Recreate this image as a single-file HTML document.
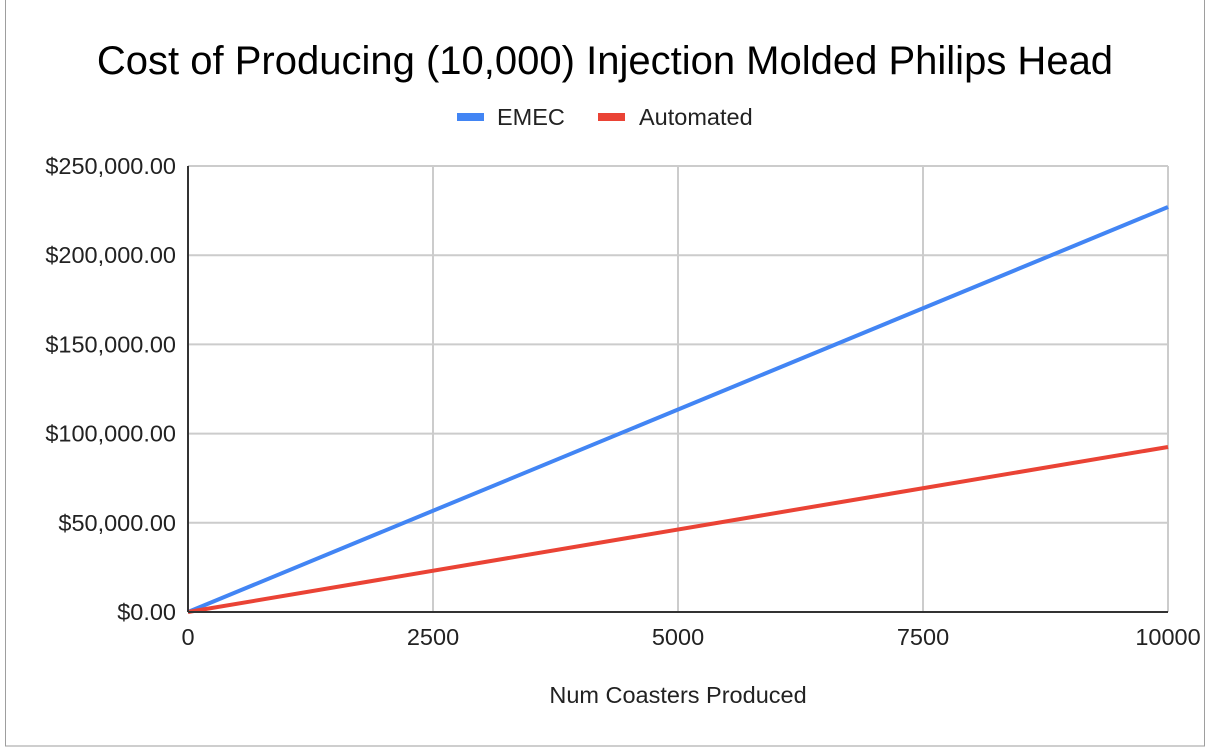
<!DOCTYPE html>
<html><head><meta charset="utf-8"><style>
html,body{margin:0;padding:0;background:#fff;}
svg{display:block;font-family:"Liberation Sans",Arial,sans-serif;}
</style></head><body>
<svg width="1208" height="748" viewBox="0 0 1208 748">
<rect x="5.5" y="-1" width="1199" height="747" fill="#fff" stroke="#9e9e9e"/>
<text x="605" y="74" font-size="40" text-anchor="middle" fill="#000">Cost of Producing (10,000) Injection Molded Philips Head</text>
<g>
<g><rect x="457" y="113" width="27" height="8" fill="#4285f4"/><text x="497" y="125" font-size="23.5" fill="#222">EMEC</text></g>
<g><rect x="598" y="113" width="27" height="8" fill="#ea4335"/><text x="639" y="125" font-size="23.5" fill="#222">Automated</text></g>
</g>
<g id="grid"></g><g id="series"></g><g id="axes"></g>
<text x="678" y="703" font-size="23.5" text-anchor="middle" fill="#222">Num Coasters Produced</text>
</svg>
<script>
const xTicks=[0,2500,5000,7500,10000];
const yTicks=[0,50000,100000,150000,200000,250000];
const yTickLabels=["$0.00","$50,000.00","$100,000.00","$150,000.00","$200,000.00","$250,000.00"];
const xs=[0,10000];
const emec=[0,227000];
const automated=[0,92500];
const X0=188,X1=1168,Y0=612,Y1=166;
const sx=v=>X0+(v-0)/(10000)*(X1-X0);
const sy=v=>Y0-(v/250000)*(Y0-Y1);
const NS="http://www.w3.org/2000/svg";
const g=document.getElementById('grid'),s=document.getElementById('series'),a=document.getElementById('axes');
function mk(t,at,p){const e=document.createElementNS(NS,t);for(const k in at)e.setAttribute(k,at[k]);p.appendChild(e);return e;}
xTicks.forEach(v=>{
 const l=mk('line',{x1:sx(v),x2:sx(v),y1:Y1,y2:Y0,stroke:'#cccccc','stroke-width':2},g);
 
 
 const t=mk('text',{x:sx(v),y:Y0+33,'font-size':23.5,'text-anchor':'middle',fill:'#222'},a);t.textContent=v;
 
 
});
yTicks.forEach((v,i)=>{
 const l=mk('line',{x1:X0,x2:X1,y1:sy(v),y2:sy(v),stroke:'#cccccc','stroke-width':2},g);
 
 
 const t=mk('text',{x:X0-12,y:sy(v)+8,'font-size':23.5,'text-anchor':'end',fill:'#222'},a);t.textContent=yTickLabels[i];
 
 
});
[[emec,'#4285f4','line-emec'],[automated,'#ea4335','line-automated']].forEach(([d,c,n])=>{
 const p=mk('polyline',{points:xs.map((x,i)=>sx(x)+','+sy(d[i])).join(' '),fill:'none',stroke:c,'stroke-width':4},s);
 
 
});
const ax=mk('line',{x1:X0,x2:X1,y1:Y0,y2:Y0,stroke:'#333','stroke-width':2},a);


const ay=mk('line',{x1:X0,x2:X0,y1:Y1,y2:Y0,stroke:'#333','stroke-width':2},a);


</script>
</body></html>
